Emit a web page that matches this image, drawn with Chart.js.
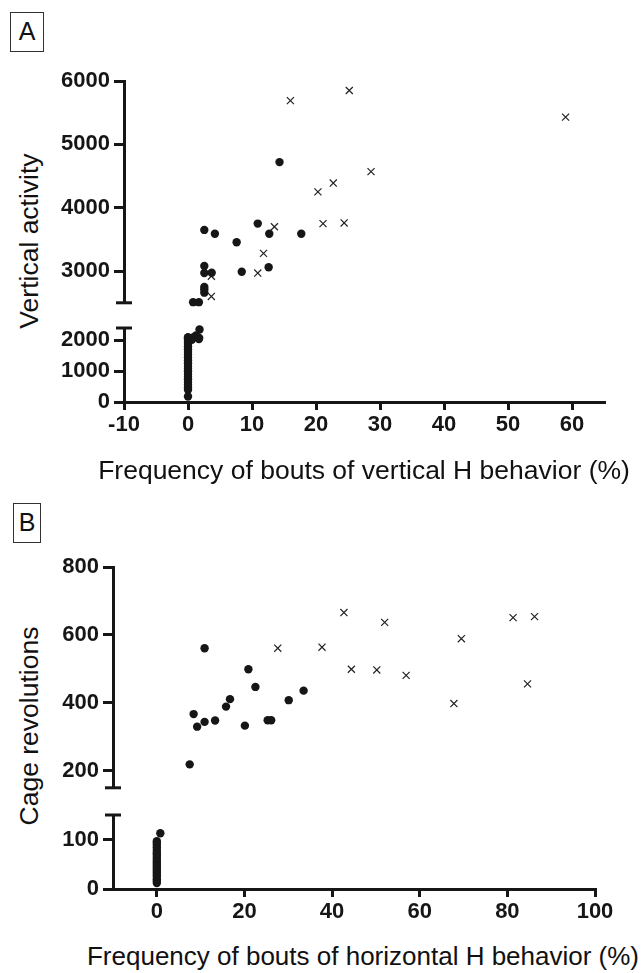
<!DOCTYPE html>
<html>
<head>
<meta charset="utf-8">
<script src="https://cdn.jsdelivr.net/npm/chart.js@4.4.1/dist/chart.umd.min.js"></script>
<style>
body{
    margin:0;
    background:#fff;
}
#page{
    position:relative;
    width:644px;
    height:973px;
    overflow:hidden;
    font-family:"Liberation Sans", Arial, sans-serif;
    color:#111;
}
canvas{
    position:absolute;
    left:0;
}
.panelTag{
    position:absolute;
    border:1px solid #333;
    font-size:25px;
    line-height:37px;
    text-align:center;
}
.yTitle{
    position:absolute;
    font-size:26.5px;
    white-space:nowrap;
    transform:translate(-50%,-50%) rotate(-90deg);
}
.xTitle{
    position:absolute;
    font-size:26.5px;
    white-space:nowrap;
    transform:translate(-50%,-50%);
}
</style>
</head>
<body>
<div id="page">
    <div class="panelTag" style="left:10px;top:12px;width:32px;height:38px;">A</div>
    <div class="yTitle" style="left:29px;top:241px;">Vertical activity</div>
    <canvas id="vertUpper" width="644" height="260" style="top:60px;"></canvas>
    <canvas id="vertLower" width="644" height="150" style="top:300px;"></canvas>
    <div class="xTitle" style="left:364px;top:470px;">Frequency of bouts of vertical H behavior (%)</div>

    <div class="panelTag" style="left:13px;top:503px;width:26px;height:38px;">B</div>
    <div class="yTitle" style="left:29px;top:726px;">Cage revolutions</div>
    <canvas id="horizUpper" width="644" height="260" style="top:545px;"></canvas>
    <canvas id="horizLower" width="644" height="139" style="top:790px;"></canvas>
    <div class="xTitle" style="left:363px;top:956px;font-size:26px;">Frequency of bouts of horizontal H behavior (%)</div>
</div>

<script>
// panel A : vertical H behaviour
const vertTicksX = [-10, 0, 10, 20, 30, 40, 50, 60];
const vertUpperTicks = [3000, 4000, 5000, 6000];
const vertLowerTicks = [0, 1000, 2000];

const vertDotX = [
    0, 0, 0, 0, 0, 0, 0, 0, 0, 0, 0, 0, 0, 0, 0, 0, 0, 0, 0, 0, 0, 0, 0,
    0.6, 0.8, 1.25, 1.75, 1.7, 1.8,
    0.8, 1.7, 2.55, 2.55, 2.55, 2.55, 2.55, 2.55, 3.7, 4.2, 7.6, 8.4,
    10.9, 12.6, 12.7, 14.3, 17.7
];
const vertDotY = [
    180, 400, 470, 560, 650, 740, 820, 910, 1000, 1080, 1170, 1260, 1350,
    1440, 1530, 1620, 1710, 1800, 1880, 1950, 2010, 2060, 2100,
    2020, 2090, 2160, 2080, 2040, 2350,
    2510, 2510, 2660, 2710, 2750, 2970, 3080, 3650, 2975, 3590, 3455, 2990,
    3750, 3060, 3590, 4720, 3590
];
const vertCrossX = [3.65, 3.65, 10.9, 11.8, 13.5, 16.0, 20.3, 21.1, 22.7, 24.4, 25.2, 28.6, 59.0];
const vertCrossY = [2600, 2920, 2970, 3280, 3700, 5690, 4250, 3750, 4390, 3760, 5850, 4570, 5430];

// panel B : horizontal H behaviour
const horizTicksX = [0, 20, 40, 60, 80, 100];
const horizUpperTicks = [200, 400, 600, 800];
const horizLowerTicks = [0, 100];

const horizDotX = [
    0, 0, 0, 0, 0, 0, 0, 0, 0, 0, 0, 0, 0, 0, 0, 0, 0, 0, 0, 0, 0, 0.8,
    7.5, 8.4, 9.2, 10.9, 10.9, 13.3, 15.8, 16.7, 20.1, 20.9, 22.5,
    25.3, 26.1, 30.1, 33.5
];
const horizDotY = [
    12, 16, 20, 25, 29, 33, 37, 41, 45, 49, 53, 57, 61, 65, 70, 74, 79,
    84, 89, 93, 97, 113,
    219, 367, 330, 344, 561, 348, 389, 411, 333, 499, 447,
    349, 349, 408, 436
];
const horizCrossX = [27.6, 37.7, 42.7, 44.4, 50.2, 52.0, 56.9, 67.8, 69.5, 81.3, 84.6, 86.2];
const horizCrossY = [561, 564, 666, 499, 497, 637, 481, 398, 589, 651, 456, 654];

const ink = "#161616";
const tickFont = {family:"'Liberation Sans', Arial, sans-serif", size:22, weight:"bold"};

Chart.defaults.font.family = "'Liberation Sans', Arial, sans-serif";
Chart.defaults.color = ink;

function pairs(xs, ys, lo, hi){
    let out = [];
    xs.forEach((x, i) => {
        if(ys[i] >= lo && ys[i] < hi){
            out.push({x:x, y:ys[i]});
        }
    });
    return out;
}

// short bar across the y axis where it is broken
const breakCaps = {
    id:"breakCaps",
    afterDraw(chart, args, opts){
        if(!opts.edge) return;
        let ctx = chart.ctx;
        let area = chart.chartArea;
        let py = opts.edge === "bottom" ? area.bottom : area.top;
        ctx.save();
        ctx.strokeStyle = ink;
        ctx.lineWidth = 3;
        ctx.beginPath();
        ctx.moveTo(area.left - 8, py);
        ctx.lineTo(area.left + 8, py);
        ctx.stroke();
        ctx.restore();
    }
};

function segment(id, cfg){

    let showX = cfg.xHeight !== undefined;

    return new Chart(document.getElementById(id), {
        type:"scatter",
        data:{
            datasets:[{
                data:pairs(cfg.dotX, cfg.dotY, cfg.yMin, cfg.yTop),
                pointStyle:"circle",
                pointRadius:4.2,
                backgroundColor:ink,
                borderColor:ink,
                borderWidth:0,
                clip:false
            },{
                data:pairs(cfg.crossX, cfg.crossY, cfg.yMin, cfg.yTop),
                pointStyle:"crossRot",
                pointRadius:5,
                borderColor:"#222",
                borderWidth:1.2,
                clip:false
            }]
        },
        options:{
            responsive:false,
            animation:false,
            events:[],
            layout:{padding:cfg.padding},
            plugins:{
                legend:{display:false},
                tooltip:{enabled:false},
                breakCaps:{edge:cfg.edge}
            },
            scales:{
                x:{
                    type:"linear",
                    display:showX,
                    min:cfg.xMin,
                    max:cfg.xMax,
                    afterBuildTicks:s => { s.ticks = cfg.xTicks.map(v => ({value:v})); },
                    afterFit:s => { s.height = cfg.xHeight || 0; },
                    grid:{drawOnChartArea:false, drawTicks:true, tickLength:8, color:ink, lineWidth:3},
                    border:{display:true, color:ink, width:3},
                    ticks:{font:tickFont, color:ink, padding:2, maxRotation:0, callback:v => String(v)}
                },
                y:{
                    type:"linear",
                    min:cfg.yMin,
                    max:cfg.yMax,
                    afterBuildTicks:s => { s.ticks = cfg.yTicks.map(v => ({value:v})); },
                    afterFit:s => { s.width = cfg.yWidth; },
                    grid:{drawOnChartArea:false, drawTicks:true, tickLength:10, color:ink, lineWidth:3},
                    border:{display:true, color:ink, width:3},
                    ticks:{font:tickFont, color:ink, padding:4, callback:v => String(v)}
                }
            }
        },
        plugins:[breakCaps]
    });
}

function drawAll(){

    segment("vertUpper", {
        dotX:vertDotX, dotY:vertDotY, crossX:vertCrossX, crossY:vertCrossY,
        xMin:-10, xMax:65, xTicks:vertTicksX,
        yMin:2500, yMax:6000, yTop:Infinity, yTicks:vertUpperTicks,
        yWidth:124, edge:"bottom",
        padding:{top:21, bottom:17, left:0, right:40}
    });

    segment("vertLower", {
        dotX:vertDotX, dotY:vertDotY, crossX:vertCrossX, crossY:vertCrossY,
        xMin:-10, xMax:65, xTicks:vertTicksX,
        yMin:0, yMax:2400, yTop:2500, yTicks:vertLowerTicks,
        yWidth:124, edge:"top", xHeight:48,
        padding:{top:28, bottom:0, left:0, right:40}
    });

    segment("horizUpper", {
        dotX:horizDotX, dotY:horizDotY, crossX:horizCrossX, crossY:horizCrossY,
        xMin:-10, xMax:100, xTicks:horizTicksX,
        yMin:150, yMax:800, yTop:Infinity, yTicks:horizUpperTicks,
        yWidth:113, edge:"bottom",
        padding:{top:22, bottom:14, left:0, right:49}
    });

    segment("horizLower", {
        dotX:horizDotX, dotY:horizDotY, crossX:horizCrossX, crossY:horizCrossY,
        xMin:-10, xMax:100, xTicks:horizTicksX,
        yMin:0, yMax:150, yTop:150, yTicks:horizLowerTicks,
        yWidth:113, edge:"top", xHeight:40,
        padding:{top:25, bottom:0, left:0, right:49}
    });
}

// make sure the bold face is ready before the canvases are painted
document.fonts.load("bold 22px 'Liberation Sans'")
.then(drawAll)
.catch(error => {
    console.log(error);
    drawAll();
});
</script>
</body>
</html>
